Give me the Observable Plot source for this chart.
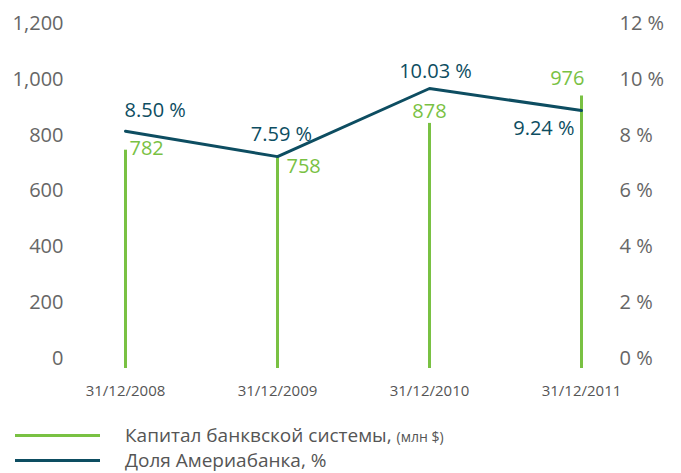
<!DOCTYPE html>
<html>
<head>
<meta charset="utf-8">
<script src="https://cdn.jsdelivr.net/npm/d3@7"></script>
<script src="https://cdn.jsdelivr.net/npm/@observablehq/plot@0.6"></script>
<style>
  body { margin: 0; background: #fff; font-family: "Open Sans", sans-serif; }
  #legend { position: relative; height: 73px; }
  .row { position: absolute; left: 0; display: flex; align-items: center; height: 24px; }
  .sw { position: absolute; left: 15px; width: 85px; height: 3px; }
  .lbl { position: absolute; left: 125px; white-space: nowrap; font-size: 19px; color: #555; }
  .small { font-size: 14px; }
</style>
</head>
<body>
<div id="chart"></div>
<div id="legend">
  <div class="row" style="top:23px"><div class="sw" style="background:#79c143"></div><div class="lbl">Капитал банквской системы, <span class="small">(млн $)</span></div></div>
  <div class="row" style="top:48px"><div class="sw" style="background:#0d4d61"></div><div class="lbl">Доля Америабанка, %</div></div>
</div>
<script>
const dates = ["31/12/2008", "31/12/2009", "31/12/2010", "31/12/2011"];
const capital = [782, 758, 878, 976];          // млн $
const share = [8.50, 7.59, 10.03, 9.24];       // %
const leftTicks = [0, 200, 400, 600, 800, 1000, 1200];
const rightTicks = [0, 2, 4, 6, 8, 10, 12];

const GREEN = "#79c143", TEAL = "#0d4d61";
const rows = dates.map((d, i) => ({date: d, capital: capital[i], share: share[i], shareY: share[i] * 100}));

// label placement (style only)
const capLab = [
  {anchor: "start", dx: 4, dy: -2},
  {anchor: "start", dx: 9, dy: 10},
  {anchor: "middle", dx: 0, dy: -12},
  {anchor: "end", dx: 3, dy: -17}
];
const shareLab = [
  {anchor: "start", dx: -1, dy: -21},
  {anchor: "middle", dx: 4, dy: -22},
  {anchor: "middle", dx: 6, dy: -17},
  {anchor: "end", dx: -7, dy: 18}
];

const textMarks = [];
rows.forEach((r, i) => {
  textMarks.push(Plot.text([r], {x: "date", y: "capital", text: d => String(d.capital),
    textAnchor: capLab[i].anchor, dx: capLab[i].dx, dy: capLab[i].dy,
    fill: GREEN, fontSize: 20, lineAnchor: "middle"}));
  textMarks.push(Plot.text([r], {x: "date", y: "shareY", text: d => d.share.toFixed(2) + " %",
    textAnchor: shareLab[i].anchor, dx: shareLab[i].dx, dy: shareLab[i].dy,
    fill: TEAL, fontSize: 20, lineAnchor: "middle"}));
});

const chart = Plot.plot({
  width: 681,
  height: 400,
  marginTop: 33,
  marginBottom: 32,
  marginLeft: 124,
  marginRight: 99,
  style: {fontFamily: "Open Sans", background: "white", overflow: "visible"},
  x: {type: "point", domain: dates, padding: 0},
  y: {domain: [0, 1200]},
  marks: [
    Plot.axisY({anchor: "left", ticks: leftTicks, tickSize: 0, tickPadding: 61, dy: -10,
      tickFormat: d => d3.format(",")(d), fontSize: 20, color: "#666", label: null}),
    Plot.axisY({anchor: "right", ticks: leftTicks, tickSize: 0, tickPadding: 37, dy: -10,
      tickFormat: (d, i) => rightTicks[i] + " %", fontSize: 20, color: "#666", label: null}),
    Plot.axisX({tickSize: 0, tickPadding: 17, fontSize: 15, color: "#555", label: null}),
    Plot.ruleX(rows, {x: "date", y1: 0, y2: "capital", stroke: GREEN, strokeWidth: 3}),
    Plot.line(rows, {x: "date", y: "shareY", stroke: TEAL, strokeWidth: 3, strokeLinejoin: "miter"}),
    ...textMarks
  ]
});
document.getElementById("chart").appendChild(chart);
</script>
</body>
</html>
